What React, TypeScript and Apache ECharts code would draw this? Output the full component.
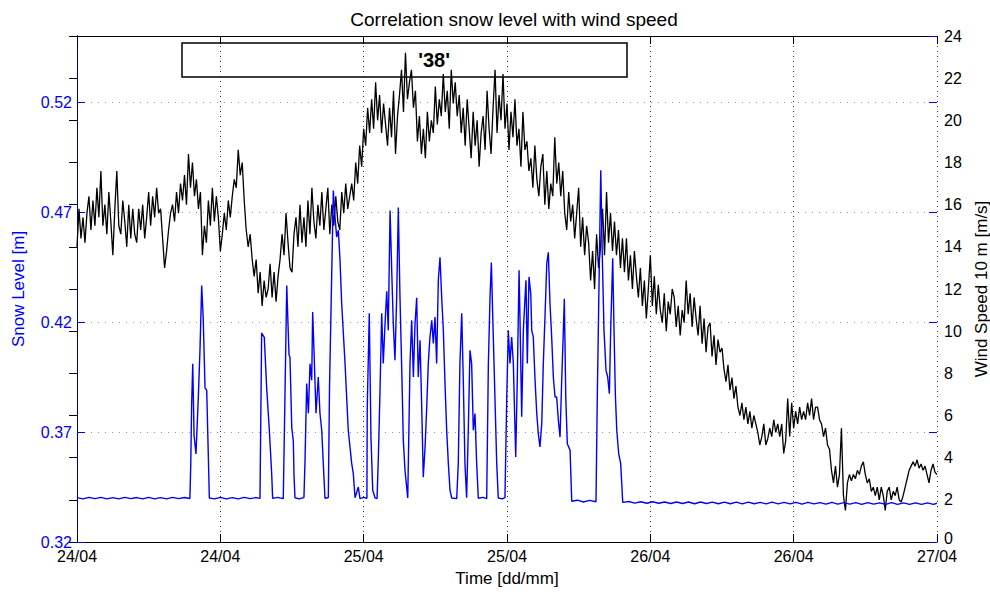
import React, { useEffect, useRef } from "react";
import * as echarts from "echarts";

// X axis: hours since 24/04 00:00, one tick every 12 h
const xTickLabels = ["24/04", "24/04", "25/04", "25/04", "26/04", "26/04", "27/04"];

// Wind speed 10 m [m/s], one value every 10 minutes from 24/04 00:00 (6 per hour)
const windStepHours = 1 / 6;
const windSpeed = [
  14.0, 15.8, 14.4, 15.4, 14.2, 15.6, 16.4, 14.8, 16.2, 15.0, 16.8, 15.4,
  17.6, 15.0, 16.0, 14.6, 16.6, 15.2, 13.6, 15.8, 17.6, 15.0, 14.6, 16.2,
  15.2, 14.0, 16.0, 14.4, 15.8, 14.6, 14.2, 15.8, 14.8, 16.0, 14.4, 15.4,
  16.6, 15.0, 16.4, 15.4, 16.8, 15.6, 15.8, 14.4, 13.0, 13.8, 14.8, 15.6,
  16.0, 15.2, 16.6, 15.6, 17.0, 16.2, 17.4, 16.0, 18.4, 16.8, 18.0, 16.4,
  17.2, 15.8, 16.6, 13.6, 15.0, 14.2, 16.2, 15.0, 16.8, 15.2, 16.4, 15.4,
  13.8, 14.6, 15.6, 14.8, 16.2, 15.4, 16.4, 17.2, 16.8, 18.6, 17.4, 18.0,
  16.2, 14.8, 14.0, 14.6, 13.4, 12.6, 13.4, 11.8, 12.8, 11.2, 12.4, 11.6,
  12.0, 13.2, 11.6, 12.8, 11.4, 12.6, 13.4, 14.6, 13.6, 15.6, 14.2, 13.0,
  12.8, 14.6, 15.4, 14.0, 16.0, 14.2, 15.4, 14.0, 16.2, 14.6, 16.8, 15.2,
  14.4, 16.0, 15.0, 16.6, 14.8, 15.8, 16.8, 14.6, 16.0, 15.0, 16.4, 15.2,
  14.8, 16.6, 15.6, 17.0, 15.8, 16.4, 17.0, 16.2, 18.0, 17.0, 18.8, 17.8,
  19.6, 18.8, 20.6, 19.4, 21.0, 19.6, 21.8, 20.0, 21.2, 19.4, 20.8, 19.8,
  18.8, 20.6, 19.2, 21.4, 18.4, 20.2, 21.2, 22.4, 20.4, 23.2, 21.0, 21.8,
  22.4, 20.6, 21.4, 19.0, 20.2, 18.4, 19.6, 18.2, 20.4, 19.0, 20.0, 19.4,
  21.6, 19.8, 21.0, 20.2, 22.2, 20.4, 21.4, 19.6, 22.4, 20.8, 21.8, 20.2,
  21.2, 19.4, 20.6, 18.8, 21.0, 19.6, 18.2, 20.4, 18.8, 20.0, 17.8, 19.4,
  20.2, 18.6, 21.4, 19.6, 18.4, 20.6, 22.4, 19.4, 21.2, 20.0, 22.2, 19.6,
  20.8, 18.6, 20.4, 19.2, 21.0, 18.8, 19.6, 17.8, 20.4, 18.6, 19.0, 17.6,
  18.2, 16.8, 18.8, 17.2, 16.4, 17.8, 18.4, 16.0, 17.6, 15.8, 17.0, 16.4,
  19.2, 17.0, 18.0, 16.4, 17.6, 15.6, 14.8, 16.6, 15.2, 16.0, 14.4, 15.6,
  16.8, 14.0, 15.4, 13.6, 15.0, 14.2, 12.4, 13.8, 12.0, 14.6, 13.0, 14.0,
  15.8, 13.6, 16.6, 14.2, 15.6, 13.8, 15.2, 13.6, 14.8, 13.0, 14.4, 12.8,
  14.4, 12.4, 13.6, 12.0, 13.8, 12.6, 11.6, 13.0, 11.2, 12.4, 10.6, 12.0,
  13.6, 11.2, 12.6, 10.8, 12.2, 11.0, 10.4, 11.8, 10.0, 11.4, 10.8, 12.0,
  11.6, 10.2, 11.2, 9.8, 11.0, 10.4, 12.4, 10.8, 11.8, 10.2, 11.6, 10.6,
  9.8, 11.2, 9.4, 10.6, 9.0, 10.2, 10.4, 8.8, 9.8, 8.4, 9.6, 9.0,
  9.2, 8.2, 7.6, 8.4, 7.2, 7.8, 6.8, 7.4, 6.4, 6.0, 6.6, 5.8,
  6.4, 5.6, 6.2, 5.4, 6.0, 5.6, 5.2, 4.6, 5.0, 5.6, 4.6, 4.9,
  5.4, 5.0, 5.8, 5.2, 5.6, 5.0, 5.6, 4.2, 4.8, 6.8, 5.0, 6.6,
  5.4, 6.2, 5.6, 6.4, 5.8, 6.2, 5.8, 6.6, 6.0, 6.8, 5.8, 6.4,
  6.4, 5.8, 5.6, 5.0, 5.4, 4.6, 4.4, 3.4, 2.8, 3.6, 2.6, 3.2,
  5.4, 2.2, 1.5, 2.8, 3.2, 2.9, 3.2, 3.0, 3.4, 3.2, 3.6, 3.8,
  3.2, 2.8, 3.0, 2.4, 2.6, 2.2, 2.6, 2.0, 2.6, 2.2, 1.5, 2.4,
  2.6, 2.0, 2.4, 2.2, 2.6, 2.0, 1.9, 2.2, 2.6, 3.0, 3.4, 3.6,
  3.8, 3.6, 3.9, 3.5, 3.7, 3.4, 3.6, 3.2, 2.8, 3.4, 3.7, 3.3,
  3.2,
];

// Snow level [m]: [hours since 24/04 00:00, level]
const snowLevel: [number, number][] = [
  [0, 0.3402], [0.5, 0.3396], [1, 0.3403], [1.5, 0.3397], [2, 0.3403], [2.5, 0.3396],
  [3, 0.3402], [3.5, 0.3396], [4, 0.3403], [4.5, 0.3397], [5, 0.3402], [5.5, 0.3396],
  [6, 0.3403], [6.5, 0.3396], [7, 0.3402], [7.5, 0.3396], [8, 0.3403], [8.5, 0.3397],
  [9, 0.3402], [9.45, 0.3398],
  [9.52, 0.354], [9.6, 0.383], [9.69, 0.401], [9.8, 0.3685], [9.96, 0.36], [10.16, 0.386],
  [10.3, 0.408], [10.44, 0.4366], [10.57, 0.421], [10.72, 0.39], [10.86, 0.389], [11.08, 0.34],
  [11.5, 0.3396], [12, 0.3403], [12.5, 0.3396], [13, 0.3402], [13.5, 0.3396], [14, 0.3403],
  [14.5, 0.3397], [15, 0.3402], [15.32, 0.3398],
  [15.46, 0.415], [15.68, 0.413], [15.88, 0.39], [16.1, 0.371], [16.3, 0.351], [16.38, 0.3398],
  [16.8, 0.3403], [17.27, 0.3397],
  [17.41, 0.3859], [17.56, 0.4366], [17.75, 0.405], [17.83, 0.404], [17.98, 0.372], [18.11, 0.366],
  [18.17, 0.35], [18.25, 0.3401], [18.6, 0.3396], [19.0, 0.3402],
  [19.09, 0.357], [19.23, 0.392], [19.37, 0.3785], [19.51, 0.401], [19.65, 0.3935], [19.73, 0.4245],
  [19.84, 0.407], [20.01, 0.3785], [20.2, 0.395], [20.34, 0.3785], [20.49, 0.3708], [20.62, 0.3558],
  [20.76, 0.3399], [21.04, 0.3402],
  [21.14, 0.39], [21.46, 0.4798], [21.6, 0.4677], [21.74, 0.4586], [21.88, 0.4617], [22.02, 0.448],
  [22.16, 0.4284], [22.44, 0.4011], [22.71, 0.3708], [23.0, 0.3556], [23.13, 0.3512], [23.28, 0.3401],
  [23.55, 0.345], [23.69, 0.3397], [24.0, 0.3403], [24.27, 0.3398],
  [24.3, 0.3814], [24.47, 0.424], [24.61, 0.3677], [24.76, 0.3435], [24.95, 0.3401], [25.12, 0.3397],
  [25.23, 0.3586], [25.37, 0.389], [25.51, 0.424], [25.64, 0.4011], [25.79, 0.4193], [25.93, 0.434],
  [26.06, 0.4162], [26.21, 0.4707], [26.35, 0.443], [26.48, 0.4193], [26.62, 0.4026], [26.77, 0.4329],
  [26.9, 0.472], [27.04, 0.4314], [27.19, 0.398], [27.32, 0.3662], [27.46, 0.3526], [27.69, 0.34],
  [27.88, 0.4011], [28.02, 0.4208], [28.16, 0.395], [28.3, 0.4193], [28.44, 0.431], [28.57, 0.395],
  [28.72, 0.4117], [28.86, 0.3814], [28.99, 0.3495], [29.14, 0.3632], [29.28, 0.3814], [29.41, 0.4011],
  [29.55, 0.4132], [29.7, 0.4208], [29.83, 0.4102], [29.97, 0.4223], [30.11, 0.4011], [30.25, 0.439],
  [30.39, 0.4494], [30.53, 0.4314], [30.67, 0.4162], [30.81, 0.392], [30.95, 0.3708], [31.09, 0.3556],
  [31.23, 0.3435], [31.37, 0.34], [31.79, 0.3397],
  [31.92, 0.3556], [32.06, 0.4011], [32.21, 0.424], [32.34, 0.3935], [32.48, 0.3556], [32.62, 0.3401],
  [32.76, 0.3708], [32.9, 0.4071], [33.04, 0.4011], [33.18, 0.3708], [33.32, 0.3784], [33.46, 0.3556],
  [33.6, 0.3399], [34.0, 0.3403], [34.3, 0.3397],
  [34.44, 0.4011], [34.58, 0.4314], [34.69, 0.447], [34.8, 0.4238], [34.99, 0.3859], [35.14, 0.3556],
  [35.27, 0.34], [35.6, 0.3396], [35.83, 0.3402],
  [35.98, 0.3859], [36.11, 0.4162], [36.25, 0.4011], [36.39, 0.4132], [36.53, 0.4011], [36.73, 0.3586],
  [36.86, 0.3935], [37.01, 0.4435], [37.09, 0.4208], [37.23, 0.3769], [37.37, 0.4162], [37.51, 0.4314],
  [37.59, 0.439], [37.7, 0.4011], [37.84, 0.4405], [37.99, 0.4329], [38.07, 0.4162], [38.2, 0.4132],
  [38.35, 0.3935], [38.49, 0.3784], [38.62, 0.3693], [38.76, 0.3632], [38.91, 0.3738], [39.04, 0.4011],
  [39.18, 0.4223], [39.33, 0.4465], [39.46, 0.4517], [39.6, 0.4284], [39.74, 0.4132], [39.88, 0.395],
  [40.02, 0.3859], [40.16, 0.3859], [40.3, 0.3753], [40.44, 0.3677], [40.58, 0.3935], [40.72, 0.4162],
  [40.8, 0.4306], [40.92, 0.3859], [41.05, 0.3647], [41.28, 0.3617], [41.42, 0.3385],
  [41.9, 0.3390], [42.4, 0.3382], [42.9, 0.3389], [43.45, 0.3383],
  [43.56, 0.3859], [43.73, 0.4465], [43.85, 0.489], [43.98, 0.4495], [44.12, 0.4162], [44.29, 0.398],
  [44.43, 0.395], [44.57, 0.3874], [44.68, 0.4162], [44.85, 0.449], [44.96, 0.4162], [45.07, 0.3874],
  [45.19, 0.3708], [45.35, 0.3602], [45.52, 0.3556], [45.69, 0.338],
  [46.2, 0.3384], [46.7, 0.3377], [47.2, 0.3383], [47.7, 0.3376], [48.2, 0.3383], [48.7, 0.3376],
  [49.2, 0.3382], [49.7, 0.3375], [50.2, 0.3382], [50.7, 0.3375], [51.2, 0.3382], [51.7, 0.3374],
  [52.2, 0.3382], [52.7, 0.3375], [53.2, 0.3381], [53.7, 0.3374], [54.2, 0.3381], [54.7, 0.3374],
  [55.2, 0.3381], [55.7, 0.3373], [56.2, 0.3381], [56.7, 0.3374], [57.2, 0.338], [57.7, 0.3373],
  [58.2, 0.3381], [58.7, 0.3373], [59.2, 0.338], [59.7, 0.3373], [60.2, 0.338], [60.7, 0.3372],
  [61.2, 0.338], [61.7, 0.3373], [62.2, 0.3379], [62.7, 0.3372], [63.2, 0.338], [63.7, 0.3372],
  [64.2, 0.3379], [64.7, 0.3372], [65.2, 0.3379], [65.7, 0.3371], [66.2, 0.3379], [66.7, 0.3372],
  [67.2, 0.3378], [67.7, 0.3371], [68.2, 0.3379], [68.7, 0.3371], [69.2, 0.3378], [69.7, 0.3371],
  [70.2, 0.3378], [70.7, 0.3371], [71.2, 0.3378], [71.7, 0.3371], [72, 0.3376],
];

const titleText = "Correlation snow level with wind speed";
const boxText = "'38'";

const FONT = "'Liberation Sans', Arial, Helvetica, sans-serif";

export default function App() {
  const ref = useRef<HTMLDivElement>(null);

  useEffect(() => {
    document.body.style.margin = "0";
    const chart = echarts.init(ref.current as HTMLDivElement, null, { renderer: "svg" });
    const windData = windSpeed.map((v, i) => [i * windStepHours, v]);

    chart.setOption({
      animation: false,
      backgroundColor: "#ffffff",
      textStyle: { fontFamily: FONT },
      title: {
        text: titleText,
        left: 509,
        top: 5,
        textAlign: "center",
        textStyle: { fontFamily: FONT, fontSize: 19, fontWeight: "normal", color: "#000" },
      },
      grid: { left: 77, right: 53, top: 36, bottom: 50, containLabel: false, outerBoundsMode: "none" },
      xAxis: [
        {
          type: "value",
          position: "bottom",
          min: 0,
          max: 72,
          interval: 12,
          name: "Time [dd/mm]",
          nameLocation: "middle",
          nameGap: 28,
          nameMoveOverlap: false,
          nameTextStyle: { fontFamily: FONT, fontSize: 17, color: "#000" },
          axisLine: { show: true, lineStyle: { color: "#000", width: 1 } },
          axisTick: { show: true, inside: true, length: 8, lineStyle: { color: "#000" } },
          axisLabel: {
            margin: 8,
            color: "#000",
            fontFamily: FONT,
            fontSize: 16,
            lineHeight: 12,
            formatter: (v: number) => xTickLabels[Math.round(v / 12)] ?? "",
          },
          splitLine: { show: true, lineStyle: { type: [1, 4], color: "#333", width: 1 } },
        },
        {
          type: "value",
          position: "top",
          min: 0,
          max: 72,
          interval: 12,
          axisLine: { show: true, lineStyle: { color: "#000", width: 1 } },
          axisTick: { show: true, inside: true, length: 8, lineStyle: { color: "#000" } },
          axisLabel: { show: false },
          splitLine: { show: false },
        },
      ],
      yAxis: [
        {
          type: "value",
          position: "left",
          min: 0.32,
          max: 0.55,
          interval: 0.05,
          name: "Snow Level [m]",
          nameLocation: "middle",
          nameGap: 50,
          nameRotate: 90,
          nameMoveOverlap: false,
          nameTextStyle: { fontFamily: FONT, fontSize: 17, color: "#0000ff" },
          axisLine: { show: true, lineStyle: { color: "#0000ff", width: 1 } },
          axisTick: { show: true, inside: true, length: 8, lineStyle: { color: "#0000ff" } },
          axisLabel: {
            margin: 5,
            color: "#0000ff",
            fontFamily: FONT,
            fontSize: 16,
            lineHeight: 12,
            showMaxLabel: false,
            formatter: (v: number) => v.toFixed(2),
          },
          splitLine: { show: true, lineStyle: { type: [1, 6], color: "#8c8cff", width: 1 } },
        },
        {
          type: "value",
          position: "right",
          min: 0,
          max: 24,
          interval: 2,
          name: "Wind Speed 10 m [m/s]",
          nameLocation: "middle",
          nameGap: 36,
          nameRotate: 90,
          nameMoveOverlap: false,
          nameTextStyle: { fontFamily: FONT, fontSize: 17, color: "#000" },
          axisLine: { show: true, lineStyle: { color: "#00007f", width: 1 } },
          axisTick: { show: true, inside: true, length: 8, lineStyle: { color: "#000" } },
          axisLabel: {
            margin: 7,
            color: "#000",
            fontFamily: FONT,
            fontSize: 16,
            lineHeight: 12,
            formatter: (v: number) => (v === 0 ? "{low|0}" : String(v)),
            rich: {
              low: {
                fontFamily: FONT,
                fontSize: 16,
                lineHeight: 12,
                color: "#000",
                padding: [0, 0, 8, 0],
              },
            },
          },
          splitLine: { show: false },
        },
        {
          type: "value",
          position: "right",
          min: 0.32,
          max: 0.55,
          interval: 0.05,
          axisLine: { show: false },
          axisTick: { show: true, inside: true, length: 8, lineStyle: { color: "#0000ff" } },
          axisLabel: { show: false },
          splitLine: { show: false },
        },
      ],
      series: [
        {
          name: "Wind Speed",
          type: "line",
          xAxisIndex: 0,
          yAxisIndex: 1,
          data: windData,
          showSymbol: false,
          symbol: "none",
          lineStyle: { color: "#000000", width: 1.3 },
          z: 2,
        },
        {
          name: "Snow Level",
          type: "line",
          xAxisIndex: 0,
          yAxisIndex: 0,
          data: snowLevel,
          showSymbol: false,
          symbol: "none",
          lineStyle: { color: "#0000ff", width: 1.4 },
          z: 3,
        },
      ],
      graphic: [
        {
          type: "rect",
          shape: { x: 182, y: 43, width: 445, height: 34 },
          style: { fill: "rgba(0,0,0,0)", stroke: "#000", lineWidth: 1.5 },
          z: 10,
        },
        {
          type: "text",
          x: 434,
          y: 60,
          style: {
            text: boxText,
            fontFamily: FONT,
            fontSize: 20,
            fontWeight: "bold",
            fill: "#000",
            textAlign: "center",
            textVerticalAlign: "middle",
          },
          z: 11,
        },
      ],
    });

    return () => {
      chart.dispose();
    };
  }, []);

  return <div ref={ref} style={{ width: 990, height: 592 }} />;
}
